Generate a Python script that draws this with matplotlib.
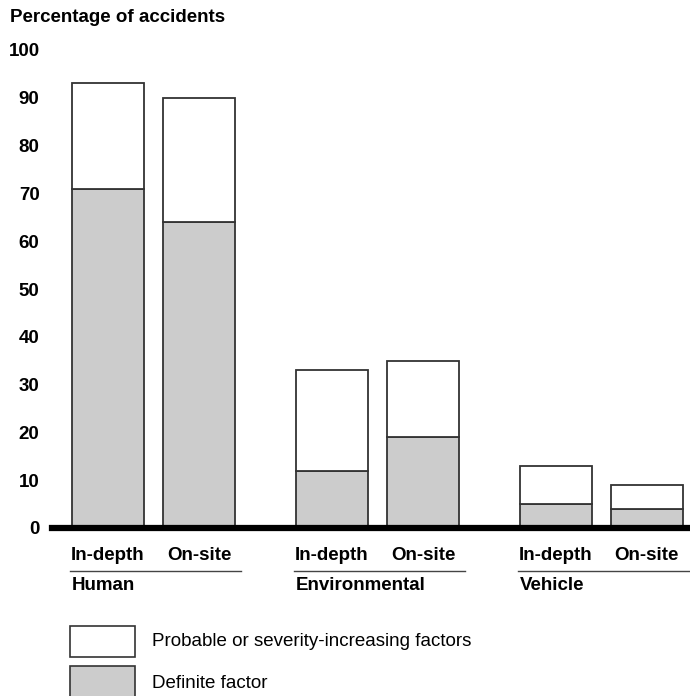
import matplotlib
matplotlib.use("Agg")
import matplotlib.pyplot as plt
from matplotlib.patches import Rectangle
import matplotlib.transforms as mtransforms

plt.rcParams['font.family'] = ['Liberation Sans', 'DejaVu Sans']

groups = ["Human", "Environmental", "Vehicle"]
methods = ["In-depth", "On-site"]
# total (probable or severity-increasing) and definite, per group: [in-depth, on-site]
total = [[93, 90], [33, 35], [13, 9]]
definite = [[71, 64], [12, 19], [5, 4]]
yticks = [0, 10, 20, 30, 40, 50, 60, 70, 80, 90, 100]

grey = "#cccccc"
edge = "#333333"
fs = 13.5

fig = plt.figure(figsize=(6.9, 6.96), dpi=100)
ax = fig.add_axes([52 / 690, 168 / 696, 638 / 690, 478 / 696])
trans = mtransforms.blended_transform_factory(ax.transData, ax.transAxes)

width = 1.0
inner = 1.264
step = 3.11

for g, name in enumerate(groups):
    for m, meth in enumerate(methods):
        x = g * step + m * inner
        d = definite[g][m]
        t = total[g][m]
        ax.bar(x, d, width, color=grey, edgecolor=edge, linewidth=1.3)
        ax.bar(x, t - d, width, bottom=d, color="white", edgecolor=edge, linewidth=1.3)
        ax.text(x, -0.057, meth, transform=trans, ha="center", va="center",
                fontsize=fs, fontweight="bold")
    x0 = g * step - width / 2 - 0.03
    x1 = g * step + inner + width / 2 + 0.08
    ax.plot([x0, x1], [-0.09, -0.09], color="#444444", lw=1, transform=trans, clip_on=False)
    ax.text(g * step - width / 2, -0.121, name, transform=trans, ha="left", va="center",
            fontsize=fs, fontweight="bold")

ax.set_xlim(-0.778, 8.083)
ax.set_ylim(0, 100)
ax.axhline(0, color="black", lw=4.5, clip_on=False)
for s in ax.spines.values():
    s.set_visible(False)
ax.set_xticks([])
ax.set_yticks(yticks)
ax.tick_params(axis="y", length=0, pad=9, labelsize=fs)
for lab in ax.get_yticklabels():
    lab.set_fontweight("bold")

fig.text(10 / 690, 1 - 17 / 696, "Percentage of accidents", ha="left", va="center",
         fontsize=fs, fontweight="bold")

# legend
fig.add_artist(Rectangle((70 / 690, 1 - 657 / 696), 65 / 690, 31 / 696, transform=fig.transFigure,
                         facecolor="white", edgecolor=edge, lw=1.2))
fig.add_artist(Rectangle((70 / 690, 1 - 697 / 696), 65 / 690, 31 / 696, transform=fig.transFigure,
                         facecolor=grey, edgecolor=edge, lw=1.2, clip_on=False))
fig.text(152 / 690, 1 - 641 / 696, "Probable or severity-increasing factors", ha="left", va="center",
         fontsize=fs)
fig.text(152 / 690, 1 - 683 / 696, "Definite factor", ha="left", va="center", fontsize=fs)

fig.savefig("out.png", dpi=100)
